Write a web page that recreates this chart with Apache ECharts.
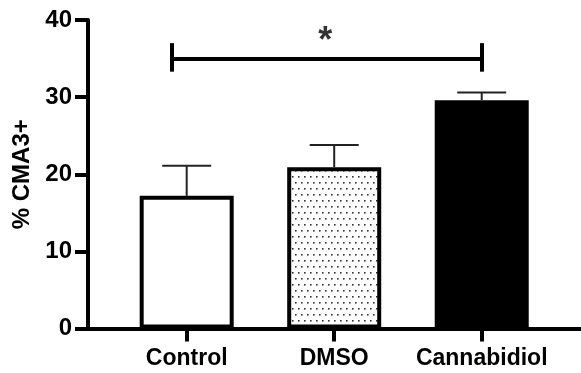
<!DOCTYPE html>
<html>
<head>
<meta charset="utf-8">
<script src="https://cdn.jsdelivr.net/npm/echarts@6/dist/echarts.min.js"></script>
<style>html,body{margin:0;padding:0;background:#fff}#c{width:581px;height:373px}</style>
</head>
<body>
<div id="c"></div>
<script>
var categories = ['Control', 'DMSO', 'Cannabidiol'];
var positions = [0, 1, 2];
var means = [17.2, 20.9, 29.6];
var errTops = [21.1, 23.8, 30.6];
var yTicks = [0, 10, 20, 30, 40];
var sigFrom = -0.1, sigTo = 2, sigY = 35.0, sigLow = 33.3, sigHigh = 37.0;
var sigLabel = '*';
var sigLabelPos = [0.94, 37.2];

var FONT = '"Liberation Sans", Arial, sans-serif';

var pc = document.createElement('canvas');
pc.width = 6; pc.height = 12;
var px = pc.getContext('2d');
px.fillStyle = '#fff'; px.fillRect(0, 0, 6, 12);
px.fillStyle = '#333';
px.fillRect(1, 2, 1.6, 1.6);
px.fillRect(4, 8, 1.6, 1.6);

var fills = ['#ffffff', {image: pc, repeat: 'repeat'}, '#000000'];

var barData = positions.map(function (p, i) {
  return {value: [p, means[i]], itemStyle: {color: fills[i]}};
});
var errData = positions.map(function (p, i) {
  return [p, means[i], errTops[i]];
});

var chart = echarts.init(document.getElementById('c'), null, {renderer: 'canvas'});
chart.setOption({
  animation: false,
  grid: {left: 88, right: 0, top: 20, bottom: 44.5, containLabel: false},
  xAxis: {
    type: 'value', min: -0.669, max: 2.673,
    splitLine: {show: false},
    axisLine: {show: true, onZero: false, lineStyle: {color: '#000', width: 4}},
    axisTick: {show: true, customValues: positions, length: 13, lineStyle: {color: '#000', width: 4}},
    axisLabel: {
      show: true, customValues: positions, margin: 19,
      formatter: function (v) { var i = positions.indexOf(Math.round(v)); return i >= 0 ? categories[i] : ''; },
      color: '#000', fontSize: 23, fontWeight: 'bold', fontFamily: FONT
    }
  },
  yAxis: {
    type: 'value', min: yTicks[0], max: yTicks[yTicks.length - 1], interval: 10,
    name: '% CMA3+', nameLocation: 'middle', nameGap: 54,
    nameTextStyle: {color: '#000', fontSize: 24, fontWeight: 'bold', fontFamily: FONT},
    splitLine: {show: false},
    axisLine: {show: true, onZero: false, lineStyle: {color: '#000', width: 4}},
    axisTick: {show: true, length: 13, lineStyle: {color: '#000', width: 4}},
    axisLabel: {margin: 16, color: '#000', fontSize: 24, fontWeight: 'bold', fontFamily: FONT}
  },
  series: [
    {
      type: 'bar', barWidth: 94, data: barData,
      itemStyle: {borderColor: '#000', borderWidth: 4},
      markLine: {
        silent: true, symbol: 'none', label: {show: false},
        lineStyle: {color: '#000', width: 4, type: 'solid'},
        data: [
          [{coord: [sigFrom, sigY]}, {coord: [sigTo, sigY]}],
          [{coord: [sigFrom, sigLow]}, {coord: [sigFrom, sigHigh]}],
          [{coord: [sigTo, sigLow]}, {coord: [sigTo, sigHigh]}]
        ]
      },
      z: 2
    },
    {
      type: 'custom', data: errData, z: 3,
      renderItem: function (params, api) {
        var x = api.value(0);
        var b = api.coord([x, api.value(1)]);
        var t = api.coord([x, api.value(2)]);
        var half = 24.5;
        var st = {stroke: '#222', lineWidth: 2};
        return {type: 'group', children: [
          {type: 'line', shape: {x1: b[0], y1: b[1], x2: t[0], y2: t[1]}, style: st},
          {type: 'line', shape: {x1: t[0] - half, y1: t[1], x2: t[0] + half, y2: t[1]}, style: st}
        ]};
      }
    },
    {
      type: 'scatter', symbolSize: 0, data: [sigLabelPos], z: 4,
      label: {show: true, position: 'inside', formatter: sigLabel, color: '#000', fontSize: 36, fontWeight: 'bold', fontFamily: FONT}
    }
  ]
});
</script>
</body>
</html>
